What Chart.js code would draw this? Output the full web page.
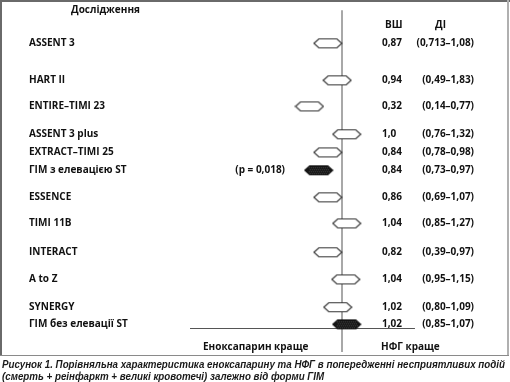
<!DOCTYPE html>
<html><head><meta charset="utf-8">
<script src="https://cdn.jsdelivr.net/npm/chart.js@4"></script>
<style>html,body{margin:0;padding:0;background:#fff}#wrap{width:510px;height:382px;position:relative}</style>
</head><body><div id="wrap"><canvas id="c" width="510" height="382"></canvas></div>
<script>
// ---- DATA ----
const studies = ['ASSENT 3','HART II','ENTIRE–TIMI 23','ASSENT 3 plus','EXTRACT–TIMI 25','ГІМ з елевацією ST','ESSENCE','TIMI 11B','INTERACT','A to Z','SYNERGY','ГІМ без елевації ST'];
const orLabels = ['0,87','0,94','0,32','1,0','0,84','0,84','0,86','1,04','0,82','1,04','1,02','1,02'];
const ciLabels = ['(0,713–1,08)','(0,49–1,83)','(0,14–0,77)','(0,76–1,32)','(0,78–0,98)','(0,73–0,97)','(0,69–1,07)','(0,85–1,27)','(0,39–0,97)','(0,95–1,15)','(0,80–1,09)','(0,85–1,07)'];
// hexagon centres as drawn in the picture, on the odds-ratio axis (1 = no difference)
const markerPos = [0.907,0.968,0.786,1.031,0.907,0.847,0.907,1.031,0.907,1.025,0.972,1.031];
const isPooled = [false,false,false,false,false,true,false,false,false,false,false,true];
const pLabels = ['','','','','','(p = 0,018)','','','','','',''];
const headerStudy = 'Дослідження';
const headerOR = 'ВШ';
const headerCI = 'ДІ';
const favourLeft = 'Еноксапарин краще';
const favourRight = 'НФГ краще';
const caption = ['Рисунок 1. Порівняльна характеристика еноксапарину та НФГ в попередженні несприятливих подій',
                 '(смерть + реінфаркт + великі кровотечі) залежно від форми ГІМ'];

// ---- LAYOUT (row slots on the vertical axis) ----
const rowPos = [1, 2.45, 3.47, 4.56, 5.27, 5.97, 7.03, 8.05, 9.18, 10.24, 11.33, 12];

function hexCanvas(filled){
  const c = document.createElement('canvas');
  c.width = 30; c.height = 12;
  const g = c.getContext('2d');
  g.beginPath();
  g.moveTo(1,6); g.lineTo(6,1.5); g.lineTo(24,1.5); g.lineTo(29,6); g.lineTo(24,10.5); g.lineTo(6,10.5); g.closePath();
  g.fillStyle = filled ? '#141414' : '#ffffff';
  g.fill();
  if (filled){
    g.save(); g.clip();
    g.fillStyle = '#4a4a4a';
    for (let y=3; y<10; y+=2) for (let x=5+((y-3)%4===2?1:0); x<26; x+=2) g.fillRect(x,y,1,1);
    g.restore();
  }
  g.strokeStyle = filled ? '#111' : '#333';
  g.lineWidth = 1.1;
  g.stroke();
  return c;
}
const hexOpen = hexCanvas(false), hexFull = hexCanvas(true);

const textPlugin = {
  id: 'forestText',
  beforeDatasetsDraw(chart){
    const ctx = chart.ctx, xs = chart.scales.x, ys = chart.scales.y;
    ctx.save();
    // frame
    ctx.fillStyle = '#6a6a6a';
    ctx.fillRect(0,0,510,2);
    ctx.fillRect(0,0,2,356);
    ctx.fillStyle = '#b0b0b0';
    ctx.fillRect(507,0,2,356);
    ctx.fillStyle = '#8a8a8a';
    ctx.fillRect(0,355,509,1);
    // reference line at OR = 1
    const x1 = Math.round(xs.getPixelForValue(1));
    ctx.strokeStyle = '#a8a8a8'; ctx.lineWidth = 2;
    ctx.beginPath(); ctx.moveTo(x1, ys.getPixelForValue(-0.29)); ctx.lineTo(x1, ys.getPixelForValue(13.08)); ctx.stroke();
    // bottom rule
    const yb = Math.round(ys.getPixelForValue(12.15)) + 0.5;
    ctx.strokeStyle = '#555'; ctx.lineWidth = 1;
    ctx.beginPath(); ctx.moveTo(xs.getPixelForValue(0), yb); ctx.lineTo(xs.getPixelForValue(1.48), yb); ctx.stroke();
    ctx.restore();
  },
  afterDraw(chart){
    const ctx = chart.ctx, ys = chart.scales.y;
    ctx.save();
    ctx.fillStyle = '#111';
    ctx.textBaseline = 'middle';
    ctx.font = 'bold 10px "Open Sans"';
    ctx.textAlign = 'left';
    ctx.fillText(headerStudy, 71, ys.getPixelForValue(-0.29));
    ctx.fillText(headerOR, 385, ys.getPixelForValue(0.3));
    ctx.fillText(headerCI, 435, ys.getPixelForValue(0.3));
    studies.forEach((s,i)=>{
      const y = ys.getPixelForValue(rowPos[i]);
      ctx.textAlign = 'left';
      ctx.fillText(s, 29, y);
      ctx.fillText(orLabels[i], 382, y);
      ctx.textAlign = 'right';
      ctx.fillText(ciLabels[i], 474, y);
      if (pLabels[i]) ctx.fillText(pLabels[i], 285, y);
    });
    ctx.textAlign = 'left';
    const yf = ys.getPixelForValue(12.9);
    ctx.fillText(favourLeft, 203, yf);
    ctx.fillText(favourRight, 381, yf);
    ctx.font = 'italic bold 10px "Liberation Sans"';
    ctx.fillStyle = '#1a1a1a';
    ctx.fillText(caption[0], 2, 365, 503);
    ctx.fillText(caption[1], 2, 377, 503 * 0.958 * ctx.measureText(caption[1]).width / ctx.measureText(caption[0]).width > 0 ? ctx.measureText(caption[1]).width * 503 / ctx.measureText(caption[0]).width : undefined);
    ctx.restore();
  }
};

new Chart(document.getElementById('c'), {
  type: 'scatter',
  data: {
    datasets: [{
      data: markerPos.map((v,i)=>({x:v, y:rowPos[i]})),
      pointStyle: ctx => isPooled[ctx.dataIndex] ? hexFull : hexOpen,
      pointRadius: 3,
      pointHoverRadius: 3
    }]
  },
  options: {
    responsive: false,
    animation: false,
    events: [],
    layout: { padding: { left: 190, right: 16, top: 5, bottom: 27 } },
    scales: {
      x: { type: 'linear', min: 0, max: 2, display: false },
      y: { type: 'linear', min: -0.5, max: 13.2, reverse: true, display: false }
    },
    plugins: { legend: { display: false }, tooltip: { enabled: false } }
  },
  plugins: [textPlugin]
});
</script>
</body></html>
